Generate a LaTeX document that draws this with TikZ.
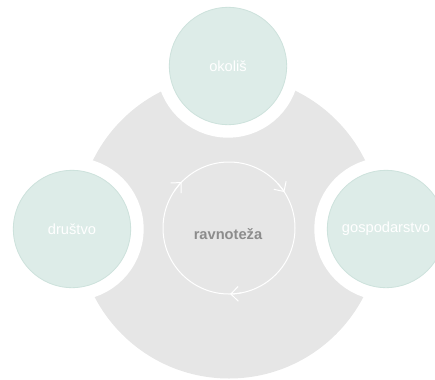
\documentclass[tikz,border=0pt]{standalone}
\usepackage{fontspec}
\setmainfont{Liberation Sans}
\usetikzlibrary{arrows.meta}
\definecolor{basegray}{RGB}{230,230,230}
\definecolor{leafgreen}{RGB}{221,236,232}
\definecolor{leafedge}{RGB}{205,226,220}
\definecolor{hubgray}{RGB}{140,140,140}
\tikzset{
  pillar/.style={circle, fill=leafgreen, draw=leafedge, line width=0.6pt,
    minimum size=88pt, inner sep=0pt, text=white,
    font=\fontsize{11}{13}\selectfont,
    preaction={draw=white, line width=19.5pt}},
  loopline/.style={draw=white, line width=0.75pt},
  looparrow/.style={loopline, -{Straight Barb[length=5.5pt,width=11pt]}},
}
\begin{document}
\begin{tikzpicture}[x=0.75pt, y=-0.75pt]
  \useasboundingbox (0,0) rectangle (435,379);
  % base disc
  \node[circle, fill=basegray, minimum size=227.25pt, inner sep=0pt] (base) at (229,227) {};
  % the three pillars
  \node[pillar] (okolis) at (228,66) {okoliš};
  \node[pillar] (drustvo) at (72,229) {društvo};
  \node[pillar] (gospodarstvo) at (386,229) {gospodarstvo};
  % balance loop
  \node[circle, loopline, minimum size=99pt, inner sep=0pt] (loop) at (229,228) {};
  \foreach \ang in {224,-33,89}
    \draw[looparrow] (loop.center) ++(\ang-10:66) arc[start angle=\ang-10, end angle=\ang, radius=66];
  \node[text=hubgray, font=\fontsize{11}{13}\selectfont\bfseries] (ravnoteza) at (228,234) {ravnoteža};
\end{tikzpicture}
\end{document}
